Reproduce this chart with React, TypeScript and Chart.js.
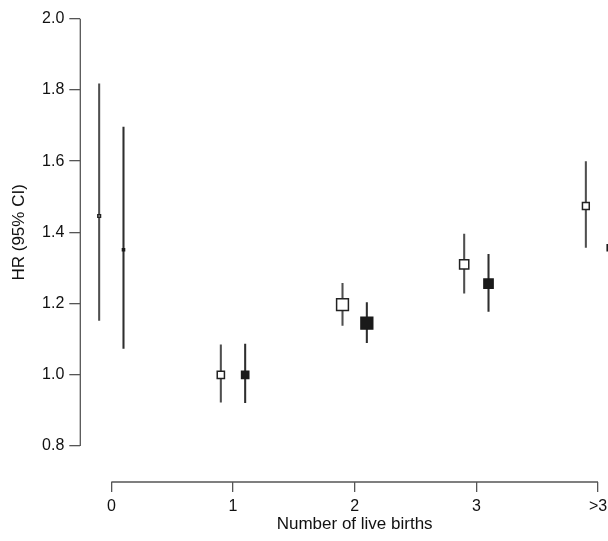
import { useEffect, useRef } from 'react';
import { Chart, registerables } from 'chart.js';

Chart.register(...registerables);

// ---- data ----
const categories = ['0', '1', '2', '3', '>3'];
const xPositions = [0, 1, 2, 3, 4];
const yTicks = [0.8, 1.0, 1.2, 1.4, 1.6, 1.8, 2.0];

const openHR = [1.446, 1.0, 1.197, 1.31, 1.474];
const openLow = [1.153, 0.923, 1.139, 1.229, 1.358];
const openHigh = [1.817, 1.084, 1.257, 1.395, 1.599];

const filledHR = [1.351, 1.0, 1.145, 1.256, 1.357];
const filledLow = [1.074, 0.922, 1.09, 1.178, 1.22];
const filledHigh = [1.696, 1.086, 1.203, 1.338, 1.5];

const xTitle = 'Number of live births';
const yTitle = 'HR (95% CI)';

// ---- styles ----
const openShift = -0.1;
const filledShift = 0.1;
const openSizes = [4.2, 8.7, 13.3, 10.7, 8.3];
const filledSizes = [3.6, 8.7, 13.3, 10.7, 7.5];
const FONT = '"Liberation Sans", Arial, Helvetica, sans-serif';
const AXIS_COLOR = '#555555';
const BOX_BORDER = 1.5;

const radiusFor = (outer: number) => Math.max((outer - BOX_BORDER) / Math.SQRT2, 0.6);

const axesPlugin = {
  id: 'rAxes',
  beforeDatasetsDraw(chart: any) {
    const { ctx, chartArea, scales } = chart;
    const x = scales.x;
    const y = scales.y;
    ctx.save();
    ctx.strokeStyle = AXIS_COLOR;
    ctx.lineWidth = 1.3;
    ctx.beginPath();
    ctx.moveTo(chartArea.left, y.getPixelForValue(yTicks[0]));
    ctx.lineTo(chartArea.left, y.getPixelForValue(yTicks[yTicks.length - 1]));
    ctx.moveTo(x.getPixelForValue(xPositions[0]), chartArea.bottom);
    ctx.lineTo(x.getPixelForValue(xPositions[xPositions.length - 1]), chartArea.bottom);
    ctx.stroke();
    ctx.restore();
  },
  afterDraw(chart: any) {
    const { ctx, scales } = chart;
    const x = scales.x;
    const y = scales.y;
    ctx.save();
    ctx.fillStyle = '#111111';
    ctx.font = `17px ${FONT}`;
    ctx.textAlign = 'center';
    ctx.textBaseline = 'middle';
    const xc = (x.getPixelForValue(xPositions[0]) + x.getPixelForValue(xPositions[xPositions.length - 1])) / 2;
    ctx.fillText(xTitle, xc, 524);
    const yc = (y.getPixelForValue(yTicks[0]) + y.getPixelForValue(yTicks[yTicks.length - 1])) / 2;
    ctx.translate(19, yc);
    ctx.rotate(-Math.PI / 2);
    ctx.fillText(yTitle, 0, 0);
    ctx.restore();
  },
};

export default function App() {
  const ref = useRef<HTMLCanvasElement | null>(null);

  useEffect(() => {
    if (!ref.current) return;
    const chart = new Chart(ref.current, {
      type: 'scatter',
      data: {
        datasets: [
          {
            type: 'bar',
            label: 'CI open',
            data: xPositions.map((p, i) => ({ x: p + openShift, y: [openLow[i], openHigh[i]] })) as any,
            backgroundColor: '#4f4f4f',
            barThickness: 1.4,
            maxBarThickness: 1.4,
            grouped: false,
            order: 2,
          } as any,
          {
            type: 'bar',
            label: 'CI filled',
            data: xPositions.map((p, i) => ({ x: p + filledShift, y: [filledLow[i], filledHigh[i]] })) as any,
            backgroundColor: '#2e2e2e',
            barThickness: 1.4,
            maxBarThickness: 1.4,
            grouped: false,
            order: 2,
          } as any,
          {
            label: 'open',
            data: xPositions.map((p, i) => ({ x: p + openShift, y: openHR[i] })),
            pointStyle: 'rect',
            pointRadius: openSizes.map(radiusFor),
            backgroundColor: '#ffffff',
            borderColor: '#222222',
            borderWidth: BOX_BORDER,
            clip: false as any,
            order: 1,
          },
          {
            label: 'filled',
            data: xPositions.map((p, i) => ({ x: p + filledShift, y: filledHR[i] })),
            pointStyle: 'rect',
            pointRadius: filledSizes.map(radiusFor),
            backgroundColor: '#1a1a1a',
            borderColor: '#1a1a1a',
            borderWidth: BOX_BORDER,
            clip: false as any,
            order: 1,
          },
        ],
      },
      options: {
        animation: false,
        responsive: false,
        devicePixelRatio: 1,
        layout: { autoPadding: false, padding: { left: 0, right: 0, top: 18.7, bottom: 0 } },
        plugins: { legend: { display: false }, tooltip: { enabled: false } },
        scales: {
          x: {
            type: 'linear',
            min: -0.255,
            max: 4.082,
            offset: false,
            afterFit: (s: any) => {
              s.height = 59;
              s.paddingLeft = 0;
              s.paddingRight = 0;
            },
            afterBuildTicks: (s: any) => { s.ticks = xPositions.map((v) => ({ value: v })); },
            grid: {
              display: true,
              offset: false,
              drawOnChartArea: false,
              drawTicks: true,
              tickLength: 10,
              color: AXIS_COLOR,
              lineWidth: 1.3,
            },
            border: { display: false },
            ticks: {
              autoSkip: false,
              maxRotation: 0,
              padding: 5,
              color: '#111111',
              font: { family: FONT, size: 16 },
              callback: (v: any) => categories[xPositions.indexOf(Number(v))] ?? '',
            },
          },
          y: {
            type: 'linear',
            min: 0.699,
            max: 2.0,
            afterFit: (s: any) => {
              s.width = 80.3;
              s.paddingTop = 0;
              s.paddingBottom = 0;
            },
            afterBuildTicks: (s: any) => { s.ticks = yTicks.map((v) => ({ value: v })); },
            grid: {
              display: true,
              offset: false,
              drawOnChartArea: false,
              drawTicks: true,
              tickLength: 11,
              color: AXIS_COLOR,
              lineWidth: 1.3,
            },
            border: { display: false },
            ticks: {
              padding: 5,
              color: '#111111',
              font: { family: FONT, size: 16 },
              callback: (v: any) => Number(v).toFixed(1),
            },
          },
        },
      },
      plugins: [axesPlugin],
    });
    return () => chart.destroy();
  }, []);

  return (
    <canvas
      ref={ref}
      width={608}
      height={541}
      style={{ position: 'absolute', left: 0, top: 0, width: 608, height: 541 }}
    />
  );
}
